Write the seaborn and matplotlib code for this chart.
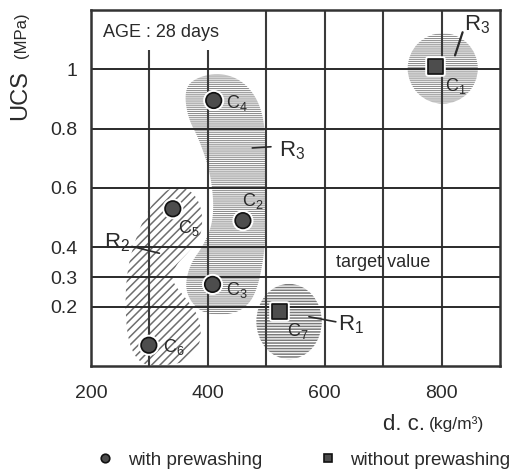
import numpy as np
import pandas as pd
import matplotlib
matplotlib.use("Agg")
import matplotlib.pyplot as plt
import matplotlib.patheffects as pe
from matplotlib.patches import Polygon, Ellipse
import seaborn as sns

# ---------------- data ----------------
labels = ["C1", "C2", "C3", "C4", "C5", "C6", "C7"]
dc_values = [790, 460, 408, 410, 340, 299, 523]          # d.c. (kg/m3)
ucs_values = [1.01, 0.49, 0.275, 0.895, 0.53, 0.07, 0.183]  # UCS (MPa)
treatment = ["without prewashing", "with prewashing", "with prewashing",
             "with prewashing", "with prewashing", "with prewashing",
             "without prewashing"]

x_ticks = [200, 400, 600, 800]
y_ticks = [0.2, 0.3, 0.4, 0.6, 0.8, 1.0]
y_tick_labels = ["0.2", "0.3", "0.4", "0.6", "0.8", "1"]
x_grid = [300, 400, 500, 600, 700, 800]
x_grid_top = [1.064, 1.064, 1.2, 1.2, 1.2, 1.2]

# region outlines (data coords)
r3_mid_x = [420, 462, 491, 500, 501, 498, 484, 462, 428, 386, 360, 368, 394, 411, 406, 386, 365, 360, 377]
r3_mid_y = [0.99, 0.96, 0.88, 0.76, 0.56, 0.39, 0.25, 0.19, 0.17, 0.18, 0.25, 0.34, 0.41, 0.50, 0.64, 0.76, 0.84, 0.93, 0.97]
r2_x = [351, 377, 391, 389, 368, 343, 338, 360, 386, 389, 368, 317, 283, 263, 258, 263, 275, 292, 317]
r2_y = [0.607, 0.583, 0.522, 0.437, 0.386, 0.336, 0.285, 0.234, 0.166, 0.081, 0.014, 0.0, 0.007, 0.081, 0.217, 0.336, 0.42, 0.505, 0.583]
r1_center = (539, 0.15)
r1_size = (112, 0.254)
r3_top_center = (802, 1.003)
r3_top_size = (120, 0.238)

df = pd.DataFrame({"dc": dc_values, "ucs": ucs_values, "wash": treatment, "label": labels})

# ---------------- style ----------------
sns.set_style("white")
plt.rcParams["font.family"] = ["Liberation Sans", "DejaVu Sans"]
plt.rcParams["mathtext.fontset"] = "custom"
plt.rcParams["mathtext.rm"] = "Liberation Sans"
plt.rcParams["mathtext.it"] = "Liberation Sans"
ink = "#2a2a2a"

fig = plt.figure(figsize=(5.09, 4.76), dpi=100)
ax = fig.add_axes([91 / 509, 1 - 366 / 476, 409 / 509, 356 / 476])


def chaikin(xs, ys, n=3):
    pts = np.column_stack([xs, ys]).astype(float)
    for _ in range(n):
        nxt = np.roll(pts, -1, axis=0)
        q = 0.75 * pts + 0.25 * nxt
        r = 0.25 * pts + 0.75 * nxt
        pts = np.empty((2 * len(q), 2))
        pts[0::2] = q
        pts[1::2] = r
    return pts


# shaded regions
with plt.rc_context({"hatch.linewidth": 0.75}):
    ax.add_patch(Polygon(chaikin(r3_mid_x, r3_mid_y), closed=True, fill=False,
                         hatch="--------", edgecolor="#8c8c8c", linewidth=0, zorder=1))
    ax.add_patch(Ellipse(r3_top_center, r3_top_size[0], r3_top_size[1], fill=False,
                         hatch="--------", edgecolor="#8c8c8c", linewidth=0, zorder=1))
with plt.rc_context({"hatch.linewidth": 1.1}):
    ax.add_patch(Polygon(chaikin(r2_x, r2_y), closed=True, fill=False,
                         hatch="////", edgecolor="#6e6e6e", linewidth=0, zorder=1))
    ax.add_patch(Ellipse(r1_center, r1_size[0], r1_size[1], fill=False,
                         hatch="------", edgecolor="#7a7a7a", linewidth=0, zorder=1))

# grid
for xg, top in zip(x_grid, x_grid_top):
    ax.vlines(xg, 0, top, color="#3a3a3a", lw=1.5, zorder=2)
ax.hlines(y_ticks, 200, 900, color="#2a2a2a", lw=1.4, zorder=2)

# points
sns.scatterplot(data=df, x="dc", y="ucs", hue="wash", style="wash",
                hue_order=["with prewashing", "without prewashing"],
                style_order=["with prewashing", "without prewashing"],
                palette={"with prewashing": "#4d4d4d", "without prewashing": "#4d4d4d"},
                markers={"with prewashing": "o", "without prewashing": "s"},
                s=125, edgecolor="#111111", linewidth=1.2, zorder=5, ax=ax)
ax.collections[-1].set_path_effects([pe.Stroke(linewidth=4, foreground="white"), pe.Normal()])

label_offsets = {"C1": (7, -14), "C2": (-1, 14), "C3": (10, -4), "C4": (9, -2),
                 "C5": (4, -14), "C6": (10, -1), "C7": (5, -14)}
for lab, xv, yv in zip(labels, dc_values, ucs_values):
    ax.annotate(r"C$_{%s}$" % lab[1:], (xv, yv), xytext=label_offsets[lab],
                textcoords="offset points", ha="left", va="center",
                fontsize=13, color=ink, zorder=6)

# region labels and leaders
ax.plot([476, 508], [0.735, 0.739], color=ink, lw=1.2, zorder=6)
ax.text(522, 0.725, r"R$_3$", fontsize=16, color=ink, ha="left", va="center", zorder=6)
ax.plot([270, 317], [0.403, 0.38], color=ink, lw=1.2, zorder=6)
ax.text(244, 0.415, r"R$_2$", fontsize=16, color=ink, ha="center", va="center", zorder=6)
ax.plot([573, 619], [0.166, 0.149], color=ink, lw=1.2, zorder=6)
ax.text(622, 0.14, r"R$_1$", fontsize=16, color=ink, ha="left", va="center", zorder=6)
ax.plot([823, 836], [1.047, 1.125], color=ink, lw=1.6, zorder=6)
ax.text(838, 1.15, r"R$_3$", fontsize=16, color=ink, ha="left", va="center", zorder=6)

ax.text(220, 1.125, "AGE : 28 days", fontsize=13, color=ink, ha="left", va="center", zorder=6)
ax.text(700, 0.35, "target value", fontsize=13, color=ink, ha="center", va="center", zorder=6)

# axes
ax.set_xlim(200, 900)
ax.set_ylim(0, 1.2)
ax.set_xticks(x_ticks)
ax.set_yticks(y_ticks)
ax.set_yticklabels(y_tick_labels)
ax.tick_params(axis="both", length=0, labelsize=14, colors=ink)
ax.tick_params(axis="x", pad=14)
ax.tick_params(axis="y", pad=10)
ax.set_xlabel("")
ax.set_ylabel("")
for sp in ax.spines.values():
    sp.set_color("#333333")
    sp.set_linewidth(1.8)
    sp.set_visible(True)

# axis titles
fig.text(20 / 509, 1 - 120 / 476, "UCS", rotation=90, fontsize=17, color=ink,
         ha="center", va="bottom")
fig.text(21 / 509, 1 - 58 / 476, "(MPa)", rotation=90, fontsize=12, color=ink,
         ha="center", va="bottom")
fig.text(425 / 509, 1 - 424 / 476, "d. c.", fontsize=16, color=ink, ha="right", va="center")
fig.text(429 / 509, 1 - 424 / 476, "(kg/m³)", fontsize=12.5, color=ink, ha="left", va="center")

# legend
handles, leg_labels = ax.get_legend_handles_labels()
if ax.get_legend() is not None:
    ax.get_legend().remove()
fig.legend(handles, leg_labels, loc="center left", bbox_to_anchor=(96 / 509, 1 - 460 / 476),
           ncol=2, frameon=False, fontsize=13.5, markerscale=0.55, handlelength=1.0,
           handletextpad=0.7, columnspacing=3.0, borderpad=0, borderaxespad=0,
           labelcolor=ink)

fig.savefig("out.png", dpi=100)
